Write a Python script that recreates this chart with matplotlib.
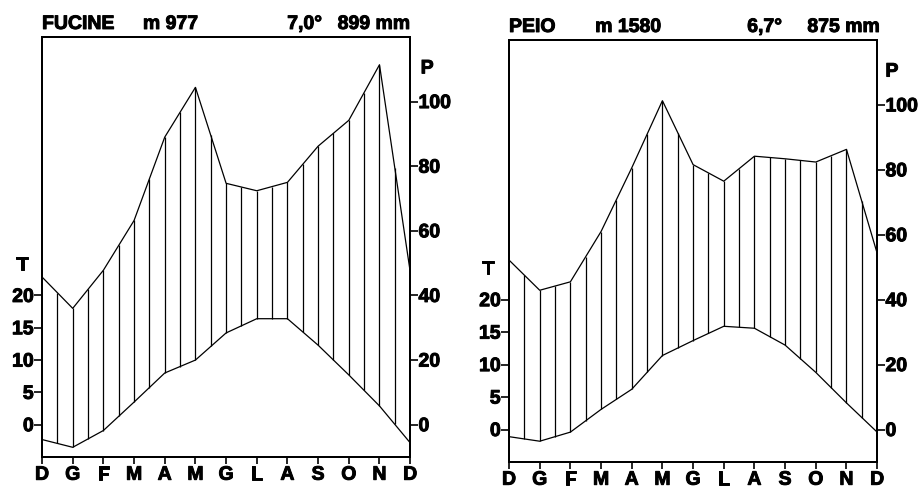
import numpy as np
import matplotlib
matplotlib.use('Agg')
import matplotlib.pyplot as plt
import matplotlib.patheffects as pe

plt.rcParams['font.family'] = ['Liberation Sans', 'DejaVu Sans']
plt.rcParams['font.weight'] = 'bold'

months = ["D", "G", "F", "M", "A", "M", "G", "L", "A", "S", "O", "N", "D"]

# FUCINE m 977
fucine_T = [-2.3, -3.5, -0.9, 3.5, 8.0, 10.0, 14.2, 16.4, 16.4, 12.3, 7.7, 2.9, -2.8]
fucine_P = [45.7, 36.0, 47.8, 63.2, 89.0, 104.4, 74.7, 72.4, 75.0, 86.2, 94.2, 111.4, 47.4]

# PEIO m 1580
peio_T = [-1.1, -1.8, -0.4, 3.1, 6.2, 11.4, 13.7, 15.9, 15.6, 13.0, 8.8, 4.1, -0.4]
peio_P = [52.2, 42.9, 45.5, 61.0, 80.6, 101.3, 81.6, 76.5, 84.2, 83.4, 82.4, 86.3, 54.3]

stations = [
    ("FUCINE", "m 977", "7,0°", "899 mm", fucine_T, fucine_P),
    ("PEIO", "m 1580", "6,7°", "875 mm", peio_T, peio_P),
]

fig = plt.figure(figsize=(9.18, 4.89), dpi=100)
boxes = [[0.0458, 0.0634, 0.401, 0.859], [0.5545, 0.0532, 0.401, 0.863]]
# header x positions (axes fraction): altitude, temperature, T label, P label
hdr = [(0.274, 0.666, -0.054, 1.046), (0.234, 0.647, -0.057, 1.04)]

heavy = [pe.withStroke(linewidth=0.7, foreground='black')]

for box, h, (name, alt, temp, rain, T, P) in zip(boxes, hdr, stations):
    ax = fig.add_axes(box)
    x = np.arange(len(months))
    T = np.array(T)
    P2 = np.array(P) / 2.0  # precipitation drawn on the T scale (P = 2T)

    ax.plot(x, T, color='black', lw=0.9)
    ax.plot(x, P2, color='black', lw=0.9)

    # vertical hatching every half month
    xh = np.arange(0.5, 12, 0.5)
    ax.vlines(xh, np.interp(xh, x, T), np.interp(xh, x, P2), color='black', lw=0.9)

    ax.set_xlim(0, 12)
    ax.set_ylim(-5, 60)
    ax.set_xticks(x)
    ax.set_xticklabels(months, fontsize=14, fontweight='bold')
    ax.set_yticks([0, 5, 10, 15, 20])
    ax.tick_params(axis='y', labelsize=14, length=6, width=1.2, pad=0)
    ax.tick_params(axis='x', length=5, width=1.2, pad=2)
    for s in ax.spines.values():
        s.set_linewidth(1.4)

    ax2 = ax.twinx()
    ax2.set_ylim(-10, 120)
    ax2.set_yticks([0, 20, 40, 60, 80, 100])
    ax2.tick_params(axis='y', labelsize=14, length=6, width=1.2, pad=0)
    for s in ax2.spines.values():
        s.set_linewidth(1.4)

    for lab in ax.get_xticklabels() + ax.get_yticklabels() + ax2.get_yticklabels():
        lab.set_path_effects(heavy)

    ax.text(h[2], 0.455, "T", transform=ax.transAxes, fontsize=14,
            fontweight='bold', ha='center', va='center', path_effects=heavy)
    ax.text(h[3], 0.924, "P", transform=ax.transAxes, fontsize=14,
            fontweight='bold', ha='center', va='center', path_effects=heavy)

    # header line
    ax.text(0.0, 1.019, name, transform=ax.transAxes, fontsize=14,
            fontweight='bold', ha='left', va='baseline', path_effects=heavy)
    ax.text(h[0], 1.019, alt, transform=ax.transAxes, fontsize=14,
            fontweight='bold', ha='left', va='baseline', path_effects=heavy)
    ax.text(h[1], 1.019, temp, transform=ax.transAxes, fontsize=14,
            fontweight='bold', ha='left', va='baseline', path_effects=heavy)
    ax.text(1.0 if name == "FUCINE" else 1.008, 1.019, rain, transform=ax.transAxes,
            fontsize=14, fontweight='bold', ha='right', va='baseline', path_effects=heavy)

plt.savefig('out.png', dpi=100)
